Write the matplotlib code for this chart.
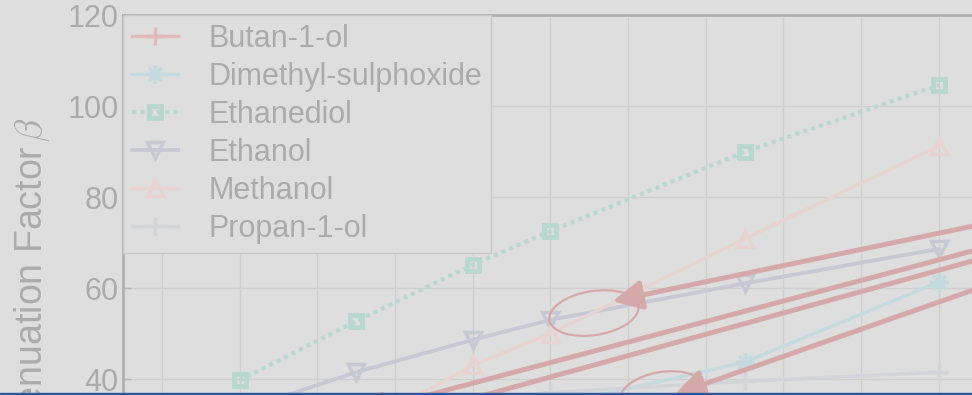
import matplotlib
matplotlib.use('agg')
import matplotlib.pyplot as plt
from matplotlib.patches import Ellipse, Rectangle
from matplotlib import transforms

# frequency points shared by every solvent
freq = [1, 2.5, 4, 5, 7.5, 10]

butanol = [15, 20, 25, 28, 31, 34]
dmso = [20, 25, 30, 34, 43.7, 61.3]
ethanediol = [39.7, 52.7, 65.1, 72.5, 89.9, 104.6]
ethanol = [33, 41.5, 48.6, 53, 61, 68.6]
methanol = [17, 29, 43, 50, 70.8, 91.2]
propanol = [30, 33, 35, 37, 39.5, 41.5]

labels = ['Butan-1-ol', 'Dimethyl-sulphoxide', 'Ethanediol',
          'Ethanol', 'Methanol', 'Propan-1-ol']
yticks = [40, 60, 80, 100, 120]

# red guide arrows: (tip, tail) in data units
arrows = [((5.80, 57.1), (11.0, 75.6)),
          ((2.5, 32.3), (11.0, 70.7)),
          ((2.8, 30.1), (11.0, 68.6)),
          ((6.6, 36.6), (11.0, 62.9))]
# ellipses marking the crossings: centre, width/height in inches, angle
rings = [((5.56, 54.5), 0.90, 0.44, 9),
         ((6.45, 36.3), 0.88, 0.48, 9)]

bg = '#dedede'
txt = '#ababab'
red = '#d5a9a9'

plt.rcParams['font.family'] = ['Liberation Sans', 'DejaVu Sans']
plt.rcParams['mathtext.fontset'] = 'cm'

fig = plt.figure(figsize=(9.72, 3.95), dpi=100, facecolor=bg)
ax = fig.add_axes([0.1265, -0.4203, 0.8793, 1.3823], facecolor=bg)

ax.plot(freq, butanol, color='#e2baba', lw=2.5, marker='+', ms=13, mew=2.5,
        label=labels[0])
ax.plot(freq, dmso, color='#c5dadf', lw=2.5, marker=(8, 2, 0), ms=13, mew=2.5,
        label=labels[1])
ax.plot(freq, ethanediol, color='#b8d7d0', lw=3, ls=(0, (1, 1)), marker='s',
        ms=8, mew=3.5, mfc='none', label=labels[2])
ax.plot(freq, ethanol, color='#c6c8d3', lw=2.7, marker='v', ms=12, mew=2.5,
        mfc='none', label=labels[3])
ax.plot(freq, methanol, color='#e7d4d0', lw=2.5, marker='^', ms=12, mew=2.5,
        mfc='none', label=labels[4])
ax.plot(freq, propanol, color='#d3d4d9', lw=2.5, marker='+', ms=13, mew=2.5,
        label=labels[5])

for tip, tail in arrows:
    ax.annotate('', xy=tip, xytext=tail, zorder=5,
                arrowprops=dict(arrowstyle='-|>', color=red, lw=3.6,
                                mutation_scale=44, shrinkA=0, shrinkB=0))

for (cx, cy), w, h, ang in rings:
    tr = fig.dpi_scale_trans + transforms.ScaledTranslation(cx, cy, ax.transData)
    ax.add_patch(Ellipse((0, 0), w, h, angle=ang, transform=tr, fill=False,
                         ec=red, lw=1.6, zorder=5))

ax.set_xlim(-0.5, 10.5)
ax.set_ylim(0, 120)
ax.set_xticks(range(0, 11))
ax.set_yticks(yticks)
ax.tick_params(axis='x', labelbottom=False)
ax.grid(True, color='#cfcfcf', lw=1)
ax.set_axisbelow(True)
ax.tick_params(direction='in', length=6, width=1, color='#b4b4b4',
               labelsize=22, labelcolor=txt, pad=3)
for side in ['left', 'top']:
    ax.spines[side].set_color('#b0b0b0')
    ax.spines[side].set_linewidth(2)
for side in ['right', 'bottom']:
    ax.spines[side].set_visible(False)

fig.text(0.033, 0.705, r'Attenuation Factor$\,\beta$', rotation=90,
         ha='center', va='top', fontsize=27, color=txt)

leg = ax.legend(loc='upper left', borderaxespad=0, fontsize=22,
                handlelength=1.5, handletextpad=1.0, borderpad=0.3,
                labelspacing=0.26, fancybox=False, framealpha=1,
                facecolor=bg, edgecolor='#c8c8c8')
leg.get_frame().set_linewidth(1)
for t in leg.get_texts():
    t.set_color(txt)

fig.add_artist(Rectangle((0, 0), 1, 2.5 / 395, transform=fig.transFigure,
                         color='#2f5597', zorder=10))

fig.savefig('out.png', dpi=100, facecolor=bg)
